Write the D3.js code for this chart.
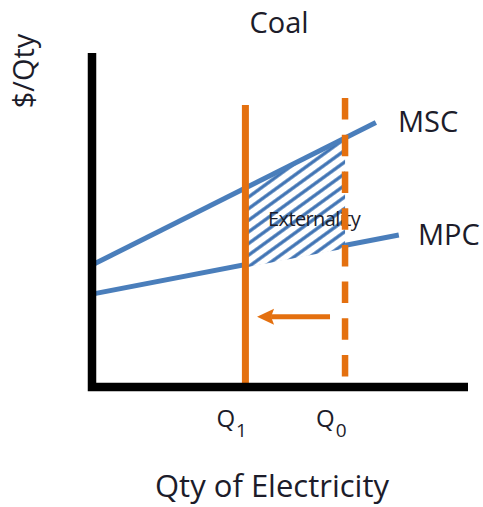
<!DOCTYPE html>
<html lang="en">
<head>
<meta charset="UTF-8">
<title>Coal externality</title>
<script src="https://d3js.org/d3.v7.min.js"></script>
<style>
  body { margin: 0; background: #fff; }
  text { font-family: "Open Sans", Lato, sans-serif; fill: #1c1c2a; }
</style>
</head>
<body>
<script>
// values (quantity / price in chart units 0..100)
const mscLine = [[0, 36.5], [75.5, 79.2]];
const mpcLine = [[0, 27.8], [81.6, 45.5]];
const qtyNames = ["1", "0"];          // subscripts of Q1, Q0
const qtyValues = [40.8, 67.3];
const qtyTops = [84.4, 86.5];
const arrowFrom = 63.3, arrowTo = 43.9, arrowLevel = 21;

const w = 483, h = 507;
const blue = "#4a7ebb", orange = "#e4700f";

const svg = d3.select("body").append("svg")
    .attr("width", w).attr("height", h);

const x = d3.scaleLinear().domain([0, 100]).range([92, 468]);
const y = d3.scaleLinear().domain([0, 100]).range([387, 53]);

// value of a straight line at q
function lineAt(pts, q) {
  const [a, b] = pts;
  return a[1] + (b[1] - a[1]) * (q - a[0]) / (b[0] - a[0]);
}

const defs = svg.append("defs");
const pat = defs.append("pattern")
    .attr("id", "hatch")
    .attr("patternUnits", "userSpaceOnUse")
    .attr("width", 10).attr("height", 9.4)
    .attr("patternTransform", "rotate(-36)");
pat.append("line")
    .attr("x1", 0).attr("x2", 10).attr("y1", 4.7).attr("y2", 4.7)
    .attr("stroke", "#3f73b4").attr("stroke-width", 3.3);

const line = d3.line().x(d => x(d[0])).y(d => y(d[1]));

// MPC then hatch (hides middle of MPC) then MSC
svg.append("path").attr("d", line(mpcLine))
    .attr("fill", "none").attr("stroke", blue).attr("stroke-width", 5);

const q1 = qtyValues[0], q0 = qtyValues[1];
const area = [
  [x(q1), y(lineAt(mscLine, q1))],
  [x(q0), y(lineAt(mscLine, q0))],
  [x(q0), y(lineAt(mpcLine, q0)) + 3],
  [x(q1), y(lineAt(mpcLine, q1)) + 3]
];
svg.append("path").attr("d", "M" + area.join("L") + "Z").attr("fill", "#fff");
svg.append("path").attr("d", "M" + area.join("L") + "Z").attr("fill", "url(#hatch)");

svg.append("path").attr("d", line(mscLine))
    .attr("fill", "none").attr("stroke", blue).attr("stroke-width", 5);

svg.append("text")
    .attr("x", 268).attr("y", 226)
    .attr("font-size", 20)
    .attr("letter-spacing", -0.6)
    .text("Externality");

// Q1 solid, Q0 dashed
svg.append("line")
    .attr("x1", x(q1)).attr("x2", x(q1))
    .attr("y1", y(qtyTops[0])).attr("y2", y(0))
    .attr("stroke", orange).attr("stroke-width", 7);
svg.append("line")
    .attr("x1", x(q0)).attr("x2", x(q0))
    .attr("y1", y(qtyTops[1])).attr("y2", y(0))
    .attr("stroke", orange).attr("stroke-width", 6.5)
    .attr("stroke-dasharray", "21.5,15.2");

// arrow Q0 -> Q1
svg.append("line")
    .attr("x1", x(arrowFrom)).attr("x2", x(arrowTo) + 14)
    .attr("y1", y(arrowLevel)).attr("y2", y(arrowLevel))
    .attr("stroke", orange).attr("stroke-width", 5);
const ax = x(arrowTo), ay = y(arrowLevel);
svg.append("path")
    .attr("d", `M${ax},${ay}L${ax + 17},${ay - 8}L${ax + 14},${ay}L${ax + 17},${ay + 8}Z`)
    .attr("fill", orange);

// axes
svg.append("path")
    .attr("d", `M${x(0)},${y(100)}V${y(0)}H${x(100)}`)
    .attr("fill", "none").attr("stroke", "#000")
    .attr("stroke-width", 8.5).attr("stroke-linejoin", "miter");

// labels
svg.append("text").attr("x", 279).attr("y", 33)
    .attr("text-anchor", "middle").attr("font-size", 29).text("Coal");
svg.append("text").attr("transform", "translate(34,71) rotate(-90)")
    .attr("text-anchor", "middle").attr("font-size", 29).text("$/Qty");
svg.append("text").attr("x", 398).attr("y", 132)
    .attr("font-size", 29).text("MSC");
svg.append("text").attr("x", 418).attr("y", 245)
    .attr("font-size", 29).text("MPC");
svg.append("text").attr("x", 272).attr("y", 497)
    .attr("text-anchor", "middle").attr("font-size", 31).text("Qty of Electricity");

const qLab = svg.append("g").selectAll("text")
    .data(qtyValues).join("text")
    .attr("x", d => x(d) - 29)
    .attr("y", 427)
    .attr("font-size", 24);
qLab.append("tspan").text("Q");
qLab.append("tspan").attr("dx", 1).attr("dy", 10).attr("font-size", 19)
    .text((d, i) => qtyNames[i]);
</script>
</body>
</html>
